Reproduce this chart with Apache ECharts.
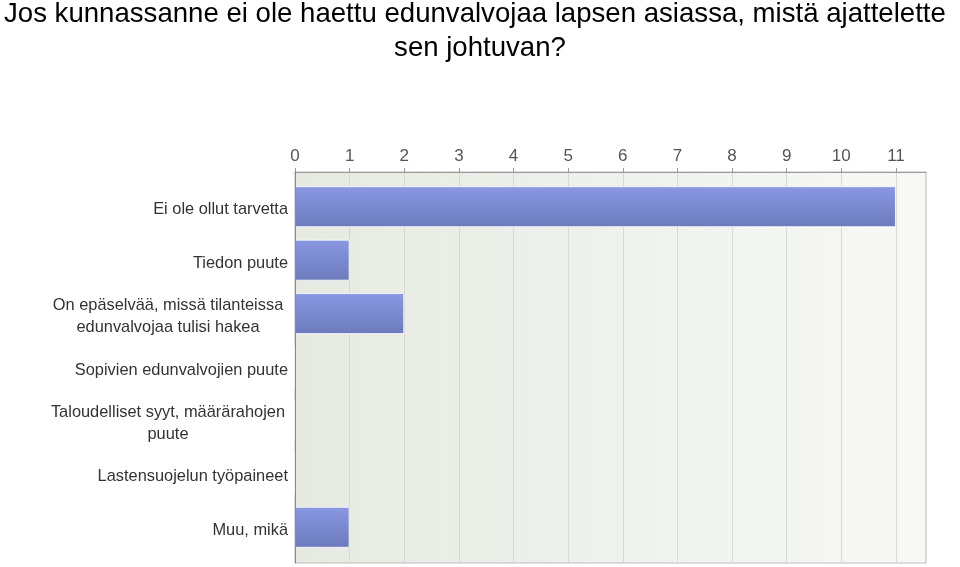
<!DOCTYPE html>
<html>
<head>
<meta charset="utf-8">
<script src="https://cdn.jsdelivr.net/npm/echarts@6/dist/echarts.min.js"></script>
<style>html,body{margin:0;padding:0;background:#fff}#c{width:960px;height:567px}</style>
</head>
<body>
<div id="c"></div>
<script>
var titleLines = ['Jos kunnassanne ei ole haettu edunvalvojaa lapsen asiassa, mistä ajattelette', 'sen johtuvan?'];
var categories = [
  'Ei ole ollut tarvetta',
  'Tiedon puute',
  'On epäselvää, missä tilanteissa\nedunvalvojaa tulisi hakea',
  'Sopivien edunvalvojien puute',
  'Taloudelliset syyt, määrärahojen\npuute',
  'Lastensuojelun työpaineet',
  'Muu, mikä'
];
var values = [11, 1, 2, 0, 0, 0, 1];
var axisMin = 0, axisMax = 11.55, axisStep = 1;

var FONT = '"Liberation Sans", Arial, sans-serif';
var titleStyle = {fontFamily: FONT, fontSize: 27.6, fontWeight: 'normal', color: '#000', lineHeight: 30};
var chart = echarts.init(document.getElementById('c'), null, {renderer: 'canvas'});
chart.setOption({
  animation: false,
  backgroundColor: '#ffffff',
  title: [
    {text: titleLines[0], left: 4, top: -1, padding: 0, textStyle: titleStyle},
    {text: titleLines[1], left: 'center', top: 33, padding: 0, textStyle: titleStyle}
  ],
  grid: [
    {left: 295, right: 34, top: 172, bottom: 4, show: true, borderColor: '#bdbdbd', borderWidth: 1,
     backgroundColor: {type: 'linear', x: 0, y: 0, x2: 1, y2: 0,
       colorStops: [{offset: 0, color: '#e6eae2'}, {offset: 1, color: '#f8f9f6'}]}},
    {left: 295, right: 34, top: 180, bottom: 13}
  ],
  xAxis: [
    {gridIndex: 0, type: 'value', position: 'top', min: axisMin, max: axisMax, interval: axisStep,
     axisLine: {show: true, lineStyle: {color: '#9a9a9a', width: 1}},
     axisTick: {show: true, length: 4, lineStyle: {color: '#9a9a9a'}},
     axisLabel: {showMaxLabel: false, fontFamily: FONT, fontSize: 17, color: '#555', margin: 7},
     splitLine: {show: true, lineStyle: {color: '#d7dad4', width: 1}}},
    {gridIndex: 1, type: 'value', min: axisMin, max: axisMax, interval: axisStep, show: false}
  ],
  yAxis: [
    {gridIndex: 0, type: 'category', data: categories, inverse: true, z: 20,
     axisLine: {show: true, lineStyle: {color: '#8a8a8a', width: 1}},
     axisTick: {show: false}, axisLabel: {show: false}, splitLine: {show: false}},
    {gridIndex: 1, type: 'category', data: categories, inverse: true,
     axisLine: {show: false}, axisTick: {show: false}, splitLine: {show: false},
     axisLabel: {
       margin: 7, fontFamily: FONT, fontSize: 16.4, color: '#333', lineHeight: 22,
       padding: [6, 0, 0, 0],
       formatter: function (v) {
         if (v.indexOf('\n') >= 0) {
           return v.split('\n').map(function (s) { return '{m|' + s + '}'; }).join('\n');
         }
         return v;
       },
       rich: {m: {width: 240, align: 'center', fontFamily: FONT, fontSize: 16.4, color: '#333', lineHeight: 22}}
     }}
  ],
  series: [{
    type: 'bar', xAxisIndex: 1, yAxisIndex: 1, data: values, barWidth: 41, z: 2,
    itemStyle: {
      color: {type: 'linear', x: 0, y: 0, x2: 0, y2: 1,
        colorStops: [{offset: 0, color: '#8998e2'}, {offset: 1, color: '#6c7abd'}]},
      borderColor: 'rgba(255,255,255,0.8)', borderWidth: 1
    }
  }]
});
</script>
</body>
</html>
